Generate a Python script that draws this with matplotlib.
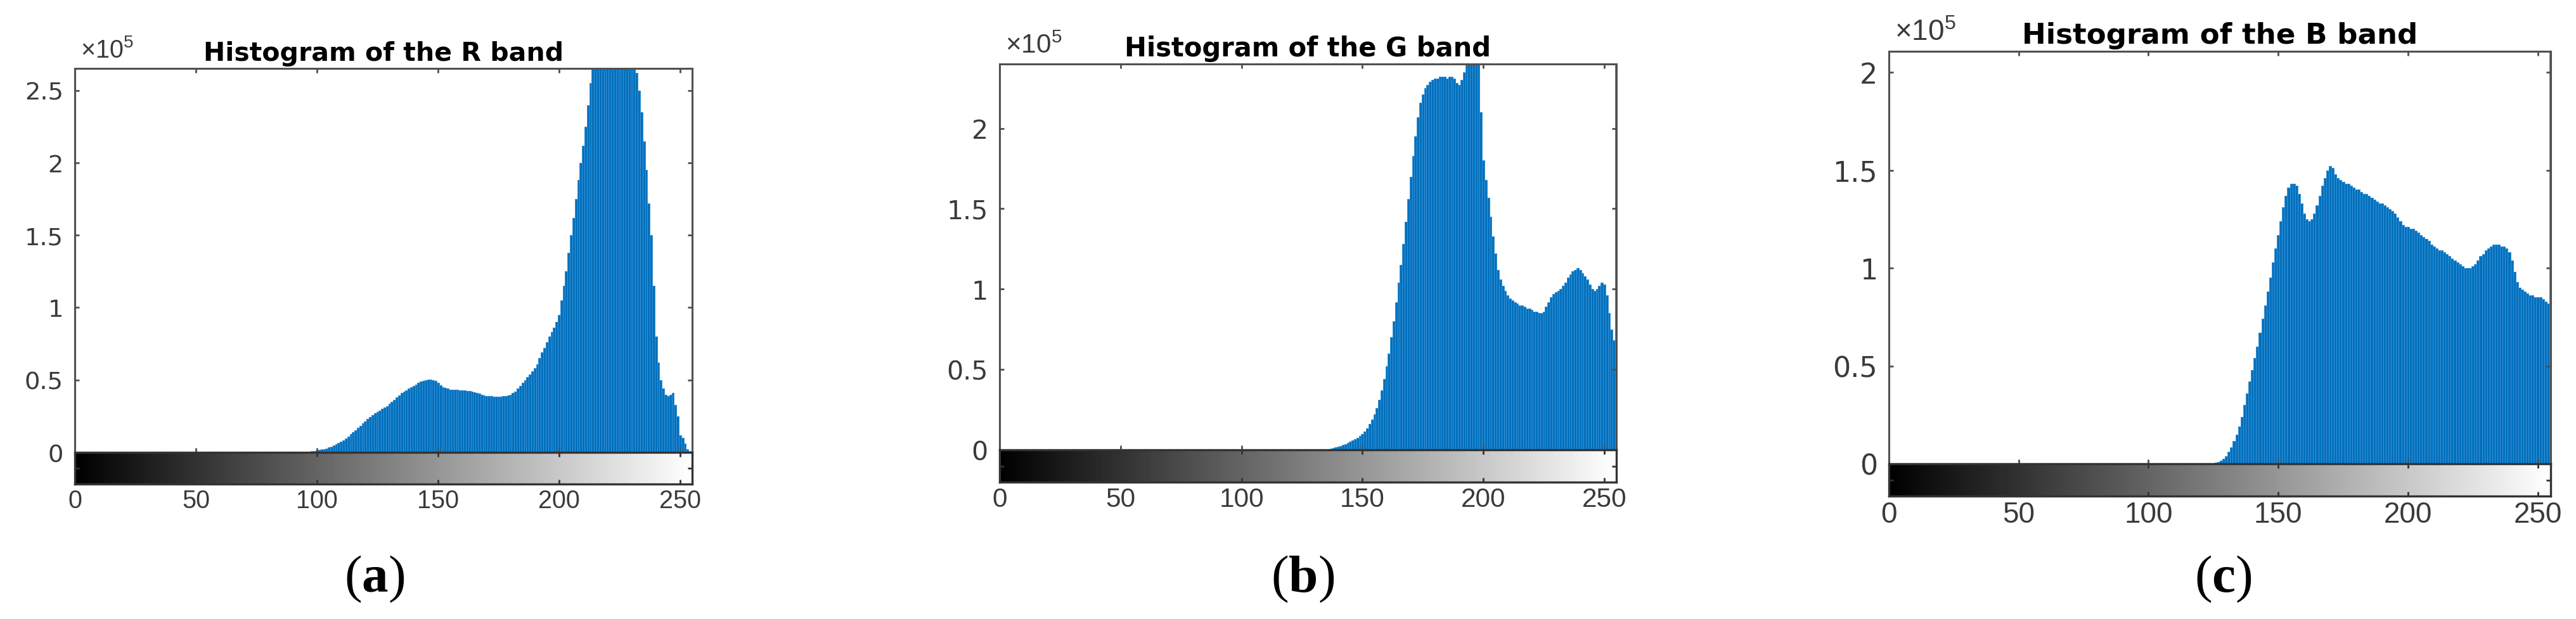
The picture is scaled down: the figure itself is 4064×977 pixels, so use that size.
import matplotlib.pyplot as plt
import numpy as np

plt.rcParams['font.family'] = ['Liberation Sans', 'DejaVu Sans']
plt.rcParams['mathtext.fontset'] = 'custom'
plt.rcParams['mathtext.rm'] = 'Liberation Sans'
plt.rcParams['mathtext.bf'] = 'Liberation Serif:bold'

levels = np.arange(256)
xticks = [0, 50, 100, 150, 200, 250]

# pixel counts per grey level, in units of 1e5
r_counts = [0.0] * 95 + [
    0.002, 0.004, 0.006, 0.008, 0.010,                                   # 95
    0.013, 0.016, 0.020, 0.024, 0.028, 0.033, 0.040, 0.047, 0.055, 0.064,  # 100
    0.074, 0.085, 0.097, 0.110, 0.125, 0.140, 0.155, 0.170, 0.185, 0.200,  # 110
    0.215, 0.230, 0.245, 0.260, 0.270, 0.280, 0.290, 0.300, 0.310, 0.320,  # 120
    0.335, 0.350, 0.365, 0.380, 0.395, 0.410, 0.420, 0.430, 0.440, 0.450,  # 130
    0.460, 0.470, 0.480, 0.490, 0.495, 0.500, 0.505, 0.505, 0.500, 0.495,  # 140
    0.480, 0.465, 0.450, 0.445, 0.440, 0.435, 0.435, 0.435, 0.435, 0.430,  # 150
    0.430, 0.430, 0.425, 0.425, 0.420, 0.415, 0.410, 0.405, 0.400, 0.395,  # 160
    0.390, 0.390, 0.390, 0.385, 0.385, 0.385, 0.385, 0.390, 0.390, 0.395,  # 170
    0.400, 0.410, 0.420, 0.440, 0.460, 0.480, 0.500, 0.520, 0.540, 0.560,  # 180
    0.580, 0.610, 0.650, 0.690, 0.720, 0.760, 0.800, 0.830, 0.860, 0.900,  # 190
    0.950, 1.050, 1.150, 1.250, 1.380, 1.500, 1.620, 1.750, 1.880, 2.000,  # 200
    2.120, 2.250, 2.400, 2.550, 2.700, 2.800, 2.900, 2.950, 3.000, 3.020,  # 210
    3.050, 3.060, 3.050, 3.040, 3.020, 3.000, 2.970, 2.940, 2.900, 2.850,  # 220
    2.780, 2.700, 2.620, 2.500, 2.350, 2.150, 1.950, 1.720, 1.500, 1.150,  # 230
    0.800, 0.620, 0.500, 0.440, 0.400, 0.390, 0.400, 0.410, 0.330, 0.250,  # 240
    0.120, 0.100, 0.060, 0.020, 0.010, 0.000,                            # 250
]

g_counts = [0.0] * 135 + [
    0.003, 0.005, 0.008, 0.012, 0.016,                                   # 135
    0.020, 0.025, 0.030, 0.035, 0.042, 0.050, 0.058, 0.066, 0.075, 0.085,  # 140
    0.100, 0.115, 0.135, 0.160, 0.190, 0.220, 0.260, 0.310, 0.370, 0.440,  # 150
    0.520, 0.600, 0.700, 0.800, 0.920, 1.040, 1.150, 1.280, 1.420, 1.560,  # 160
    1.700, 1.830, 1.950, 2.070, 2.160, 2.210, 2.250, 2.270, 2.290, 2.300,  # 170
    2.310, 2.310, 2.320, 2.320, 2.320, 2.310, 2.320, 2.320, 2.310, 2.280,  # 180
    2.270, 2.300, 2.350, 2.420, 2.460, 2.500, 2.520, 2.500, 2.450, 2.100,  # 190
    1.800, 1.680, 1.570, 1.450, 1.330, 1.220, 1.120, 1.060, 1.020, 0.990,  # 200
    0.960, 0.940, 0.930, 0.920, 0.910, 0.900, 0.900, 0.890, 0.880, 0.880,  # 210
    0.870, 0.860, 0.860, 0.850, 0.850, 0.860, 0.890, 0.920, 0.950, 0.970,  # 220
    0.980, 0.990, 1.000, 1.020, 1.040, 1.070, 1.090, 1.110, 1.120, 1.130,  # 230
    1.120, 1.100, 1.080, 1.060, 1.030, 1.000, 0.990, 1.000, 1.020, 1.040,  # 240
    1.030, 0.960, 0.850, 0.750, 0.680, 2.600,                            # 250
]

b_counts = [0.0] * 125 + [
    0.003, 0.006, 0.010, 0.015, 0.025,                                   # 125
    0.040, 0.060, 0.085, 0.115, 0.150, 0.190, 0.240, 0.300, 0.360, 0.420,  # 130
    0.480, 0.540, 0.600, 0.670, 0.740, 0.810, 0.880, 0.950, 1.030, 1.100,  # 140
    1.170, 1.240, 1.310, 1.370, 1.410, 1.430, 1.430, 1.420, 1.380, 1.330,  # 150
    1.280, 1.250, 1.240, 1.250, 1.280, 1.320, 1.370, 1.420, 1.460, 1.500,  # 160
    1.520, 1.510, 1.480, 1.460, 1.450, 1.440, 1.430, 1.430, 1.420, 1.410,  # 170
    1.400, 1.400, 1.390, 1.380, 1.380, 1.370, 1.360, 1.350, 1.340, 1.330,  # 180
    1.330, 1.320, 1.310, 1.300, 1.290, 1.280, 1.260, 1.240, 1.220, 1.210,  # 190
    1.210, 1.200, 1.200, 1.190, 1.180, 1.170, 1.160, 1.150, 1.140, 1.120,  # 200
    1.110, 1.100, 1.090, 1.090, 1.080, 1.070, 1.060, 1.050, 1.040, 1.030,  # 210
    1.020, 1.010, 1.000, 1.000, 1.000, 1.010, 1.020, 1.040, 1.060, 1.070,  # 220
    1.090, 1.100, 1.110, 1.120, 1.120, 1.120, 1.110, 1.110, 1.100, 1.080,  # 230
    1.040, 0.980, 0.930, 0.900, 0.890, 0.880, 0.870, 0.860, 0.860, 0.850,  # 240
    0.850, 0.850, 0.840, 0.830, 0.820, 2.300,                            # 250
]

titles = ['Histogram of the R band', 'Histogram of the G band', 'Histogram of the B band']
panel_labels = ['a', 'b', 'c']
y_tops = [2.652, 2.40, 2.107]
y_ticks = [[0, 0.5, 1, 1.5, 2, 2.5], [0, 0.5, 1, 1.5, 2], [0, 0.5, 1, 1.5, 2]]

W, H = 4064, 978
bar_face = '#0070bd'
bar_edge = '#3b93d6'
axis_col = '#505050'
label_col = '#3a3a3a'


def px_rect(x0, x1, y0, y1):
    # pixel box (top-left origin) -> figure fraction rect
    return [x0 / W, 1 - y1 / H, (x1 - x0) / W, (y1 - y0) / H]


def draw_band(fig, box, cbar_bottom, counts, ytop, yticks, title, fs, tfs):
    x0, x1, y0, y1 = box
    ax = fig.add_axes(px_rect(x0, x1, y0, y1))
    cax = fig.add_axes(px_rect(x0, x1, y1, cbar_bottom))

    ax.bar(levels, counts, width=1.0, color=bar_face, edgecolor=bar_edge, linewidth=0.7)
    ax.set_xlim(0, 255)
    ax.set_ylim(0, ytop)
    ax.set_xticks(xticks)
    ax.set_yticks(yticks)
    ax.set_yticklabels(['%g' % t for t in yticks], family='DejaVu Sans', fontsize=fs * 0.97)
    ax.tick_params(direction='in', top=True, right=True, length=5, width=2,
                   color=axis_col, labelcolor=label_col, pad=13)
    ax.tick_params(axis='x', labelbottom=False)
    for sp in ax.spines.values():
        sp.set_color(axis_col)
        sp.set_linewidth(2.2)
    ax.set_title(title, fontsize=tfs, fontweight='bold', family='DejaVu Sans', pad=9)
    ax.annotate('×10$^5$', xy=(0, 1), xycoords='axes fraction', xytext=(6.5, 13),
                textcoords='offset points', ha='left', va='baseline',
                fontsize=fs, color=label_col)

    gradient = np.linspace(0, 1, 256)[None, :]
    cax.imshow(gradient, cmap='gray', aspect='auto', extent=[0, 255, 0, 1])
    cax.set_xlim(0, 255)
    cax.set_ylim(0, 1)
    cax.set_xticks(xticks)
    cax.set_yticks([0.5])
    cax.set_yticklabels([])
    cax.tick_params(direction='in', top=True, right=True, length=5, width=2,
                    color='#333333', labelsize=fs, labelcolor=label_col, pad=5)
    for sp in cax.spines.values():
        sp.set_color('#333333')
        sp.set_linewidth(2.4)
    return ax


fig = plt.figure(figsize=(W / 100, H / 100), dpi=100)

boxes = [(118, 1092, 109, 715), (1577, 2550, 102, 711), (2980, 4024, 82, 733)]
cbar_bottoms = [765, 762, 784]
tick_sizes = [28.5, 30.5, 33]
title_sizes = [29.5, 30, 32.5]
label_x = [591, 2055, 3507]
all_counts = [r_counts, g_counts, b_counts]

for i in range(3):
    draw_band(fig, boxes[i], cbar_bottoms[i], all_counts[i], y_tops[i], y_ticks[i],
              titles[i], tick_sizes[i], title_sizes[i])
    fig.text(label_x[i] / W, 1 - 914 / H, '($\\mathbf{%s}$)' % panel_labels[i],
             ha='center', va='center', fontsize=60, family='Liberation Serif')

fig.savefig('out.png', dpi=100)
